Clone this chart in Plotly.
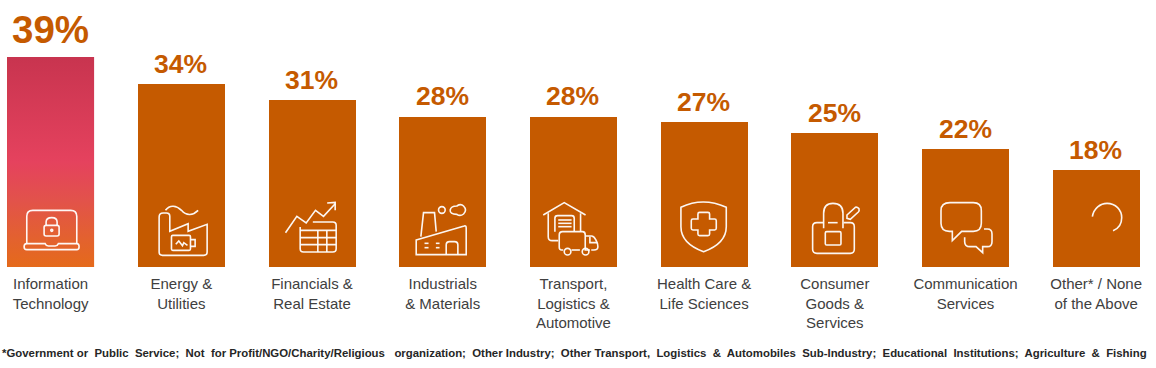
import re
import plotly.graph_objects as go

categories = ["Information<br>Technology", "Energy &<br>Utilities", "Financials &<br>Real Estate",
              "Industrials<br>& Materials", "Transport,<br>Logistics &<br>Automotive",
              "Health Care &<br>Life Sciences", "Consumer<br>Goods &<br>Services",
              "Communication<br>Services", "Other* / None<br>of the Above"]
values = [39, 34, 31, 27.9, 27.9, 27, 24.9, 22, 18]
value_labels = ["39%", "34%", "31%", "28%", "28%", "27%", "25%", "22%", "18%"]
label_sizes = [38.5, 26.5, 26.5, 26.5, 26.5, 26.5, 26.5, 26.5, 26.5]
label_shifts = [4, 3, 3, 4, 4, 3, 3, 3, 3]
footnote = ("*Government or  Public  Service;  Not  for Profit/NGO/Charity/Religious   organization;  "
            "Other Industry;  Other Transport,  Logistics  &  Automobiles  Sub-Industry;  "
            "Educational  Institutions;  Agriculture  &  Fishing")

ORANGE = "#C55A00"
TEXT = "#404040"
positions = list(range(len(values)))
PITCH = 130.7
FIRST_CENTRE = 50.6
BAR_W = 87 / PITCH


def circle(cx, cy, r):
    k = 0.5523 * r
    return (f"M{cx-r} {cy} C{cx-r} {cy-k} {cx-k} {cy-r} {cx} {cy-r} C{cx+k} {cy-r} {cx+r} {cy-k} {cx+r} {cy} "
            f"C{cx+r} {cy+k} {cx+k} {cy+r} {cx} {cy+r} C{cx-k} {cy+r} {cx-r} {cy+k} {cx-r} {cy} Z")


def rrect(x0, y0, x1, y1, r):
    return (f"M{x0+r} {y0} L{x1-r} {y0} Q{x1} {y0} {x1} {y0+r} L{x1} {y1-r} Q{x1} {y1} {x1-r} {y1} "
            f"L{x0+r} {y1} Q{x0} {y1} {x0} {y1-r} L{x0} {y0+r} Q{x0} {y0} {x0+r} {y0} Z")


# Icon outlines, drawn at 3x, with the origin being the bar's bottom-left corner at (ox, oy)
icons = [
    (21, 800, ["M80 730 L80 648 Q80 630 98 630 L212 630 Q230 630 230 648 L230 730",
               "M80 730 L135 730 Q138 737 145 737 L165 737 Q172 737 175 730 L230 730 Q237 730 237 739 Q237 748 230 748 L80 748 Q72 748 72 739 Q72 730 80 730 Z",
               rrect(132, 675, 177, 707, 6),
               "M138 675 L138 665 Q138 652 155 652 Q171 652 171 665 L171 675",
               circle(155, 690, 3)]),
    (414, 800, ["M478 650 Q478 638 490 638 L500 638 Q510 638 510 648 L510 693 L565 670 L565 693 L622 672 L622 755 Q622 765 612 765 L488 765 Q478 765 478 755 Z",
                "M497 630 C510 612 530 615 545 630 C560 648 580 645 595 630",
                rrect(515, 705, 572, 750, 4),
                "M572 718 L586 718 L586 738 L572 738",
                "M528 732 L537 722 L548 736 L552 727 L563 735"]),
    (807, 800, ["M858 697 L892 648 L920 668 L948 630 L972 648 L1007 610",
                "M983 608 L1007 606 L1007 630",
                "M940 665 L1000 665 Q1010 665 1010 675 L1010 745 Q1010 755 1000 755 L912 755 Q902 755 902 745 L902 680",
                "M902 690 L1010 690", "M902 712 L1010 712", "M902 733 L1010 733",
                "M955 690 L955 755", "M982 690 L982 755"]),
    (27, 231, ["M92 140 L100 68 L133 68 L138 125",
               "M78 150 L222 108 Q228 106 228 114 L228 194 L78 194 Z",
               "M168 194 L168 165 Q168 155 178 155 L193 155 Q203 155 203 165 L203 194",
               "M103 160 L115 160", "M137 160 L148 160", "M103 173 L115 173", "M137 173 L148 173",
               circle(155, 60, 10),
               "M200 48 Q212 40 220 48 Q232 60 220 72 Q210 80 200 73 Q178 72 180 60 Q182 48 200 48 Z"]),
    (420, 231, ["M460 75 L523 38 L587 75",
                "M475 70 L475 140 Q475 152 487 152 L505 152", "M572 70 L572 125",
                "M495 125 L495 85 Q495 77 503 77 L545 77 Q553 77 553 85 L553 125",
                "M505 90 L545 90", "M505 100 L545 100", "M505 110 L545 110",
                "M520 180 L515 180 Q508 180 508 172 L508 135 Q508 125 518 125 L578 125 Q586 125 586 135 L586 180 L600 180",
                "M570 180 L545 180",
                "M586 138 L605 138 Q612 138 618 150 Q624 160 624 170 Q624 180 612 180 L604 180",
                "M600 140 L600 158 L622 158",
                circle(533, 185, 10), circle(587, 185, 10)]),
    (813, 231, ["M874 52 Q940 20 1010 52 L1010 110 Q1010 160 942 185 Q874 160 874 110 Z",
                "M925 72 Q925 67 930 67 L955 67 Q960 67 960 72 L960 87 L975 87 Q980 87 980 92 L980 115 Q980 120 975 120 L960 120 L960 132 Q960 137 955 137 L930 137 Q925 137 925 132 L925 120 L910 120 Q905 120 905 115 L905 92 Q905 87 910 87 L925 87 Z"]),
    (33, 231, ["M130 98 L110 98 Q97 98 97 110 L97 178 Q97 190 110 190 L210 190 Q222 190 222 178 L222 110 Q222 98 210 98 L190 98",
               "M130 115 L130 70 Q130 40 158 40 Q188 40 188 70 L188 115",
               "M143 98 L172 98", rrect(135, 125, 182, 165, 4),
               "M200 75 L225 52 Q230 50 236 56 Q238 62 234 66 L210 88 L200 85 Z"]),
    (426, 231, ["M510 38 L580 38 Q604 38 604 62 L604 100 Q604 124 580 124 L545 124 L517 152 L517 124 L508 124 Q483 124 483 100 L483 62 Q483 38 510 38 Z",
                "M612 117 L622 117 Q636 117 636 132 L636 155 Q636 170 622 170 L608 170 L608 188 L588 170 L570 170 Q554 170 554 155 L554 142"]),
    (819, 231, ["M938 80 C942 55 962 40 982 40 C1008 40 1026 60 1026 83 C1026 102 1015 116 1000 122"]),
]


def local_path(path, ox, oy):
    """Convert a 3x crop path into pixels relative to the bar's bottom centre (y up)."""
    out = []
    for cmd, nums in re.findall(r"([MLQCZ])([^MLQCZ]*)", path):
        vals = [float(n) for n in nums.split()]
        pts = []
        for a, b in zip(vals[0::2], vals[1::2]):
            pts.append(f"{(a - ox) / 3 - 43.5:.2f} {(oy - b) / 3:.2f}")
        out.append(cmd + " ".join(pts))
    return " ".join(out)


fig = go.Figure()
fig.add_bar(x=positions, y=values, width=BAR_W, marker=dict(color=ORANGE, line=dict(width=0)),
            hoverinfo="skip", showlegend=False)

# Gradient overlay on the leading bar
half = BAR_W / 2
fig.add_scatter(x=[positions[0] - half, positions[0] + half, positions[0] + half, positions[0] - half, positions[0] - half],
                y=[0, 0, values[0], values[0], 0], mode="none", fill="toself",
                fillgradient=dict(type="vertical",
                                  colorscale=[[0, "#E56A1B"], [0.13, "#E3622E"], [0.32, "#E2524B"],
                                              [0.5, "#E5425E"], [1, "#C8344F"]]),
                hoverinfo="skip", showlegend=False)

shapes = []
for i, (ox, oy, paths) in enumerate(icons):
    for p in paths:
        shapes.append(dict(type="path", path=local_path(p, ox, oy), xsizemode="pixel", ysizemode="pixel",
                           xanchor=positions[i], yanchor=0, line=dict(color="rgba(255,255,255,0.95)", width=1.6),
                           fillcolor="rgba(0,0,0,0)", layer="above"))

annotations = [dict(x=positions[i], y=values[i], text=value_labels[i], showarrow=False, xanchor="center",
                    yanchor="bottom", yshift=label_shifts[i], xshift=-0.5,
                    font=dict(family="Liberation Sans", size=label_sizes[i], color=ORANGE, weight="bold"))
               for i in range(len(values))]
annotations.append(dict(x=0, y=0, xref="paper", yref="paper", xanchor="left", yanchor="middle", yshift=-86,
                        text=footnote, showarrow=False,
                        font=dict(family="Liberation Sans", size=11.4, color="#262626", weight="bold")))

fig.update_layout(
    width=1156, height=368, margin=dict(l=0, r=0, t=0, b=101),
    paper_bgcolor="white", plot_bgcolor="white", showlegend=False, shapes=shapes, annotations=annotations,
    font=dict(family="Liberation Sans"),
    bargap=0,
    xaxis=dict(range=[-FIRST_CENTRE / PITCH, (1156 - FIRST_CENTRE) / PITCH], tickmode="array", tickvals=positions,
               ticktext=categories, ticks="outside", ticklen=3, tickcolor="rgba(0,0,0,0)",
               tickfont=dict(family="Liberation Sans", size=15, color=TEXT), showgrid=False, showline=False,
               zeroline=False, tickangle=0),
    yaxis=dict(range=[0, 267 / 5.385], visible=False, showgrid=False, zeroline=False),
)
fig.write_html("out.html", config={"displayModeBar": False}, post_script="document.body.style.margin='0';")
